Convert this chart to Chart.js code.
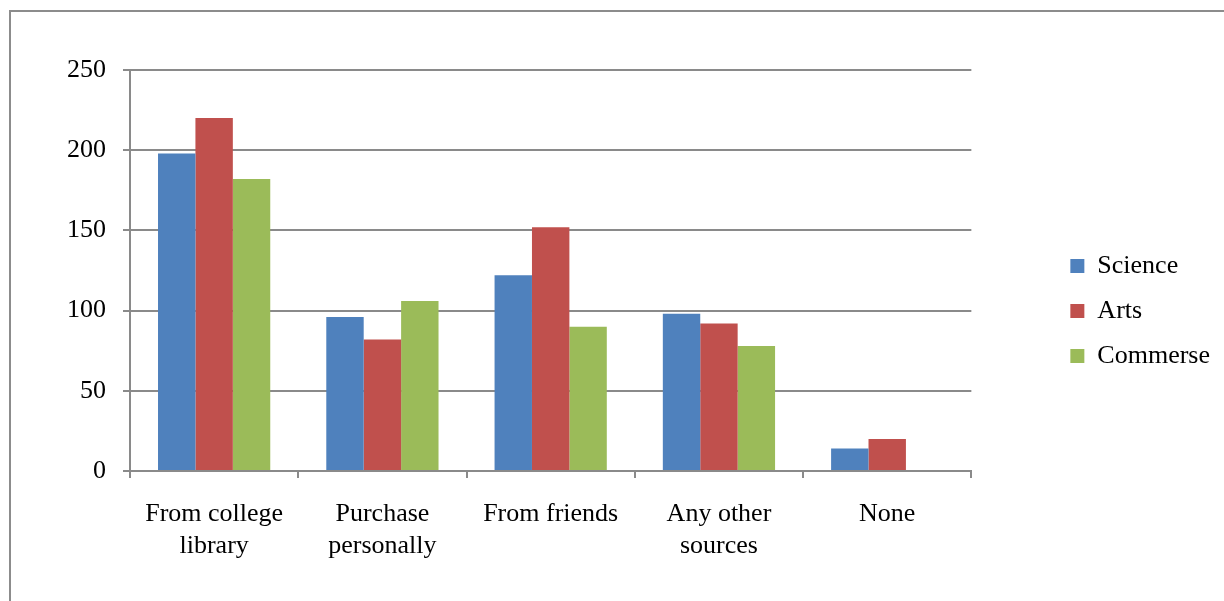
<!DOCTYPE html>
<html>
<head>
<meta charset="utf-8">
<script src="https://cdn.jsdelivr.net/npm/chart.js@4/dist/chart.umd.min.js"></script>
<style>
  html, body { margin: 0; padding: 0; background: #ffffff; }
  #wrap { width: 1224px; height: 601px; }
</style>
</head>
<body>
<div id="wrap"><canvas id="chart" width="1224" height="601"></canvas></div>
<script>
// Sources of reading material, by stream
const categories = [
  ['From college', 'library'],
  ['Purchase', 'personally'],
  'From friends',
  ['Any other', 'sources'],
  'None'
];
const science  = [198, 96, 122, 98, 14];
const arts     = [220, 82, 152, 92, 20];
const commerse = [182, 106, 90, 78, 0];
const yMin = 0, yMax = 250, yStep = 50;

const GRID = '#8a8a8a';
const FONT = 'Liberation Serif';

// Thin grey frame around the whole figure
const framePlugin = {
  id: 'frame',
  beforeDraw(chart) {
    const ctx = chart.ctx;
    ctx.save();
    ctx.strokeStyle = '#8c8c8c';
    ctx.lineWidth = 2;
    ctx.strokeRect(10, 11, 1400, 1000);
    ctx.restore();
  }
};

// Empty spacer axis (no ticks, no lines) used only to reserve room
const spacer = (axis, position, size) => ({
  type: 'linear',
  axis: axis,
  position: position,
  display: true,
  grid: { display: false },
  border: { display: false },
  ticks: { display: false },
  afterFit(s) { if (axis === 'x') s.height = size; else s.width = size; }
});

new Chart(document.getElementById('chart'), {
  type: 'bar',
  data: {
    labels: categories,
    datasets: [
      { label: 'Science',  data: science,  backgroundColor: '#4F81BD' },
      { label: 'Arts',     data: arts,     backgroundColor: '#C0504D' },
      { label: 'Commerse', data: commerse, backgroundColor: '#9BBB59' }
    ]
  },
  options: {
    responsive: false,
    animation: false,
    datasets: { bar: { categoryPercentage: 0.667, barPercentage: 1.0, borderWidth: 0 } },
    layout: { padding: { left: 0, right: 4, top: 51, bottom: 30 } },
    plugins: {
      tooltip: { enabled: false },
      legend: {
        position: 'right',
        align: 'center',
        labels: {
          color: '#000000',
          font: { family: FONT, size: 26 },
          boxWidth: 14,
          boxHeight: 14,
          padding: 19
        }
      }
    },
    scales: {
      x: {
        offset: true,
        grid: { display: true, drawOnChartArea: false, drawTicks: true, tickLength: 7, color: GRID, lineWidth: 2, offset: true },
        border: { display: true, color: GRID, width: 2 },
        ticks: { color: '#000000', padding: 20, maxRotation: 0, autoSkip: false, font: { family: FONT, size: 26, lineHeight: 1.23 } },
        afterFit(s) { s.height = 100; }
      },
      y: {
        min: yMin,
        max: yMax,
        grid: { color: GRID, lineWidth: 2, drawTicks: true, tickLength: 7 },
        border: { display: true, color: GRID, width: 2 },
        ticks: { stepSize: yStep, color: '#000000', padding: 17, font: { family: FONT, size: 26 } },
        afterFit(s) { s.width = 130; }
      },
      gapRight: spacer('y', 'right', 80),
      gapTop: spacer('x', 'top', 19)
    }
  },
  plugins: [framePlugin]
});
</script>
</body>
</html>
